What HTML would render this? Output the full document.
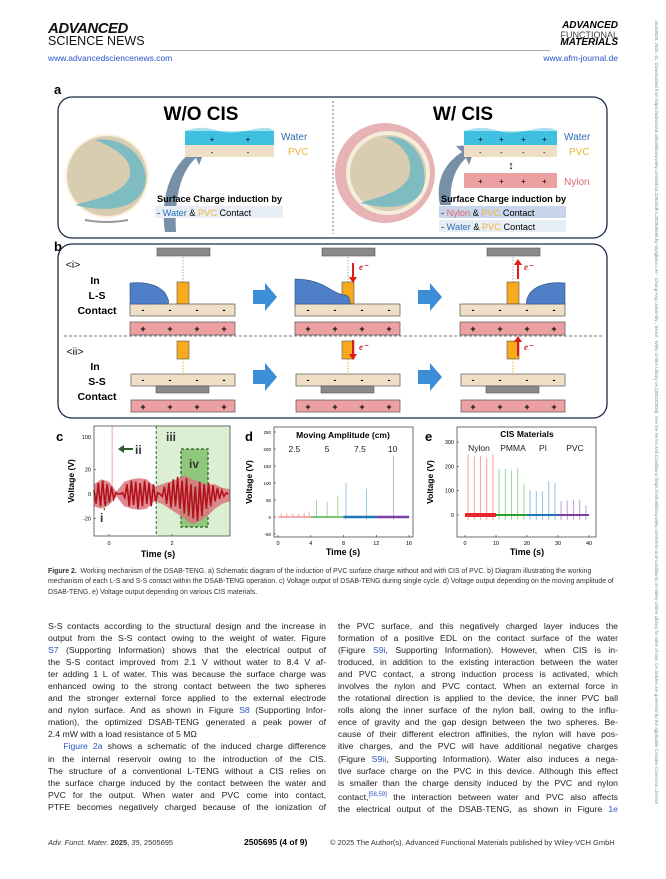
<!DOCTYPE html>
<html><head><meta charset="utf-8">
<style>
body{margin:0;width:666px;height:879px;background:#fff;position:relative;overflow:hidden;font-family:"Liberation Sans",sans-serif;}
.abs{position:absolute;}
.col{position:absolute;top:620px;font-size:8.7px;line-height:12.05px;color:#222;text-align:justify;}
.col div{text-align-last:justify;white-space:nowrap;}
.col div.l{text-align-last:left;}
a,.lk{color:#2a55c9;text-decoration:none;}
.cap{position:absolute;left:48px;top:567px;width:572px;font-size:6.9px;line-height:10.4px;color:#333;}
</style></head><body>

<div class="abs" style="left:48px;top:23px;line-height:12px;">
 <div style="font-weight:bold;font-style:italic;font-size:15px;letter-spacing:-0.5px;color:#111;">ADVANCED</div>
 <div style="font-size:12.5px;color:#111;">SCIENCE NEWS</div>
</div>
<div class="abs" style="left:160px;top:50px;width:390px;height:1px;background:#aaa;"></div>
<div class="abs lk" style="left:48px;top:53px;font-size:8.5px;">www.advancedsciencenews.com</div>
<div class="abs" style="left:548px;top:22px;line-height:8.5px;text-align:right;width:70px;">
 <div style="font-weight:bold;font-style:italic;font-size:10px;">ADVANCED</div>
 <div style="font-size:9px;color:#444;">FUNCTIONAL</div>
 <div style="font-weight:bold;font-style:italic;font-size:10px;">MATERIALS</div>
</div>
<div class="abs lk" style="left:520px;top:53px;width:98px;text-align:right;font-size:8.5px;">www.afm-journal.de</div>
<div class="abs" style="left:651px;top:20px;width:8px;height:840px;font-size:4.5px;color:#888;writing-mode:vertical-rl;white-space:nowrap;overflow:hidden;">16163028, 2025, 41, Downloaded from https://advanced.onlinelibrary.wiley.com/doi/10.1002/adfm.202505695 by Sungkyun Lee - Chung-Ang University , Seoul , Wiley Online Library on [30/10/2025]. See the Terms and Conditions (https://onlinelibrary.wiley.com/terms-and-conditions) on Wiley Online Library for rules of use; OA articles are governed by the applicable Creative Commons License</div>

<svg class="abs" style="left:0;top:0" width="666" height="879" font-family="Liberation Sans, sans-serif">
 <!-- Panel a -->
 <text x="54" y="94" font-size="13" font-weight="bold">a</text>
 <rect x="58" y="97" width="549" height="141" rx="14" fill="#fff" stroke="#1c2b45" stroke-width="1.3"/>
 <line x1="333" y1="101" x2="333" y2="234" stroke="#555" stroke-dasharray="2,2" stroke-width="0.8"/>
 <text x="201" y="120" font-size="19" font-weight="bold" text-anchor="middle">W/O CIS</text>
 <text x="463" y="120" font-size="19" font-weight="bold" text-anchor="middle">W/ CIS</text>
 <g>
  <circle cx="107" cy="176" r="42" fill="#fbf1dc"/>
  <circle cx="107" cy="176" r="40" fill="#d8cdb1"/>
  <path d="M95,140 C125,135 150,160 145,185 C140,205 115,215 75,205 C90,200 125,195 130,175 C132,158 115,148 95,140Z" fill="#6fb9c4" opacity="0.85"/>
  <path d="M85,220 Q107,224 128,220" stroke="#999" stroke-width="2" fill="none"/>
 </g>
 <g>
  <circle cx="385" cy="173" r="50" fill="#e7b3b5"/>
  <circle cx="388" cy="173" r="42" fill="#f6eedc"/>
  <circle cx="388" cy="173" r="38" fill="#d8cdb1"/>
  <path d="M385,137 C412,134 428,160 424,185 C420,205 395,212 360,203 C375,198 408,192 410,172 C412,155 400,143 385,137Z" fill="#6fb9c4" opacity="0.85"/>
 </g>
 <path d="M165,232 C160,195 172,165 192,152 L186,146 L207,145 L199,165 L196,158 C182,170 174,195 176,232Z" fill="#7790a8"/>
 <path d="M440,205 C435,180 445,163 462,152 L456,146 L476,145 L469,165 L466,158 C455,168 449,185 451,205Z" fill="#7790a8"/>
 <g>
  <rect x="185" y="131" width="89" height="14" fill="#3fc0e0"/>
  <path d="M185,131 Q200,125 215,130 T250,130 T274,131 Z" fill="#a9e2ef"/>
  <rect x="185" y="145" width="89" height="12" fill="#efdfc6"/>
  <text x="212" y="142" font-size="8" text-anchor="middle">+</text><text x="248" y="142" font-size="8" text-anchor="middle">+</text>
  <text x="212" y="155" font-size="8" text-anchor="middle">-</text><text x="248" y="155" font-size="8" text-anchor="middle">-</text>
  <text x="281" y="140" font-size="10" fill="#2d6fb5">Water</text>
  <text x="288" y="155" font-size="10" fill="#f4b43a">PVC</text>
 </g>
 <g>
  <rect x="464" y="131" width="93" height="14" fill="#3fc0e0"/>
  <path d="M464,131 Q480,125 495,130 T530,130 T557,131 Z" fill="#a9e2ef"/>
  <rect x="464" y="145" width="93" height="12" fill="#efdfc6"/>
  <rect x="464" y="173" width="93" height="15" fill="#eda0a2"/>
  <text x="478" y="142" font-size="8">+</text><text x="499" y="142" font-size="8">+</text><text x="521" y="142" font-size="8">+</text><text x="542" y="142" font-size="8">+</text>
  <text x="479" y="155" font-size="8">-</text><text x="500" y="155" font-size="8">-</text><text x="522" y="155" font-size="8">-</text><text x="543" y="155" font-size="8">-</text>
  <text x="478" y="184" font-size="8">+</text><text x="499" y="184" font-size="8">+</text><text x="521" y="184" font-size="8">+</text><text x="542" y="184" font-size="8">+</text>
  <text x="511" y="169" font-size="11" text-anchor="middle">↕</text>
  <text x="564" y="140" font-size="10" fill="#2d6fb5">Water</text>
  <text x="569" y="155" font-size="10" fill="#f4b43a">PVC</text>
  <text x="564" y="185" font-size="10" fill="#e0686d">Nylon</text>
 </g>
 <text x="157" y="202" font-size="9.2" font-weight="bold">Surface Charge induction by</text>
 <rect x="155" y="206" width="128" height="12" fill="#e8eef6"/>
 <text x="157" y="216" font-size="9.2">- <tspan fill="#2d6fb5">Water</tspan> &amp; <tspan fill="#f4b43a">PVC</tspan> Contact</text>
 <text x="441" y="202" font-size="9.2" font-weight="bold">Surface Charge induction by</text>
 <rect x="439" y="206" width="127" height="12" fill="#c9d5ea"/>
 <rect x="439" y="220" width="127" height="12" fill="#e8eef6"/>
 <text x="441" y="216" font-size="9.2">- <tspan fill="#e0686d">Nylon</tspan> &amp; <tspan fill="#f4b43a">PVC</tspan> Contact</text>
 <text x="441" y="230" font-size="9.2">- <tspan fill="#2d6fb5">Water</tspan> &amp; <tspan fill="#f4b43a">PVC</tspan> Contact</text>

 <!-- Panel b -->
 <text x="54" y="251" font-size="13" font-weight="bold">b</text>
 <rect x="58" y="244" width="549" height="174" rx="14" fill="#fff" stroke="#1c2b45" stroke-width="1.3"/>
 <line x1="64" y1="336" x2="602" y2="336" stroke="#777" stroke-dasharray="3,2" stroke-width="0.9"/>
 <g font-weight="bold" font-size="10.5" text-anchor="middle">
  <text x="73" y="268" font-weight="normal">&lt;i&gt;</text>
  <text x="95" y="284">In</text><text x="97" y="299">L-S</text><text x="97" y="314">Contact</text>
  <text x="75" y="355" font-weight="normal">&lt;ii&gt;</text>
  <text x="95" y="370">In</text><text x="97" y="385">S-S</text><text x="97" y="400">Contact</text>
 </g>
 <g id="stages"></g>
 <g fill="#3c8fd6">
  <path d="M253,290 h12 v-7 l12,14 l-12,14 v-7 h-12z"/><path d="M418,290 h12 v-7 l12,14 l-12,14 v-7 h-12z"/>
  <path d="M253,370 h12 v-7 l12,14 l-12,14 v-7 h-12z"/><path d="M418,370 h12 v-7 l12,14 l-12,14 v-7 h-12z"/>
 </g>

 <!-- Panel c -->
 <g id="chartC" font-size="5.5"></g>
 <g id="chartD" font-size="5.5"></g>
 <g id="chartE" font-size="5.5"></g>
</svg>

<div class="cap"><b>Figure 2.</b>&nbsp; Working mechanism of the DSAB-TENG. a) Schematic diagram of the induction of PVC surface charge without and with CIS of PVC. b) Diagram illustrating the working mechanism of each L-S and S-S contact within the DSAB-TENG operation. c) Voltage output of DSAB-TENG during single cycle. d) Voltage output depending on the moving amplitude of DSAB-TENG. e) Voltage output depending on various CIS materials.</div>

<div class="col" style="left:48px;width:278px;">
<div>S-S contacts according to the structural design and the increase in</div>
<div>output from the S-S contact owing to the weight of water. Figure</div>
<div><span class="lk">S7</span> (Supporting Information) shows that the electrical output of</div>
<div>the S-S contact improved from 2.1 V without water to 8.4 V af-</div>
<div>ter adding 1 L of water. This was because the surface charge was</div>
<div>enhanced owing to the strong contact between the two spheres</div>
<div>and the stronger external force applied to the external electrode</div>
<div>and nylon surface. And as shown in Figure <span class="lk">S8</span> (Supporting Infor-</div>
<div>mation), the optimized DSAB-TENG generated a peak power of</div>
<div class="l">2.4 mW with a load resistance of 5 MΩ</div>
<div>&nbsp;&nbsp;&nbsp;<span class="lk">Figure 2a</span> shows a schematic of the induced charge difference</div>
<div>in the internal reservoir owing to the introduction of the CIS.</div>
<div>The structure of a conventional L-TENG without a CIS relies on</div>
<div>the surface charge induced by the contact between the water and</div>
<div>PVC for the output. When water and PVC come into contact,</div>
<div>PTFE becomes negatively charged because of the ionization of</div>
</div>
<div class="col" style="left:338px;width:280px;">
<div>the PVC surface, and this negatively charged layer induces the</div>
<div>formation of a positive EDL on the contact surface of the water</div>
<div>(Figure <span class="lk">S9i</span>, Supporting Information). However, when CIS is in-</div>
<div>troduced, in addition to the existing interaction between the water</div>
<div>and PVC contact, a strong induction process is activated, which</div>
<div>involves the nylon and PVC contact. When an external force in</div>
<div>the rotational direction is applied to the device, the inner PVC ball</div>
<div>rolls along the inner surface of the nylon ball, owing to the influ-</div>
<div>ence of gravity and the gap design between the two spheres. Be-</div>
<div>cause of their different electron affinities, the nylon will have pos-</div>
<div>itive charges, and the PVC will have additional negative charges</div>
<div>(Figure <span class="lk">S9ii</span>, Supporting Information). Water also induces a nega-</div>
<div>tive surface charge on the PVC in this device. Although this effect</div>
<div>is smaller than the charge density induced by the PVC and nylon</div>
<div>contact,<sup class="lk" style="font-size:6px">[58,59]</sup> the interaction between water and PVC also affects</div>
<div>the electrical output of the DSAB-TENG, as shown in Figure <span class="lk">1e</span></div>
</div>

<div class="abs" style="left:48px;top:838px;font-size:7.5px;color:#333;"><i>Adv. Funct. Mater.</i> <b>2025</b>, <i>35</i>, 2505695</div>
<div class="abs" style="left:244px;top:837px;font-size:8.5px;font-weight:bold;">2505695 (4 of 9)</div>
<div class="abs" style="left:330px;top:838px;font-size:7.5px;color:#333;">© 2025 The Author(s). Advanced Functional Materials published by Wiley-VCH GmbH</div>

<script>
// ---------- Panel c data ----------
const cTimes0 = -0.48, cStep = 0.07;
const cSignal = [3,-8,9,-10,11,-9,8,-7,6,-4,1,0,0,1,-3,8,-10,11,-9,10,-12,9,-10,11,-8,9,-10,8,-6,1,0,-2,6,-8,9,-11,12,-10,14,-12,11,-16,13,-18,8,-20,6,-22,10,-18,8,-12,9,-10,7,-6,5,-4,3,-2,1,0];
const cBandTimes = [-0.48,-0.24,0,0.24,0.48,0.72,0.96,1.2,1.44,1.68,1.92,2.16,2.4,2.64,2.88,3.12,3.36,3.6,3.84];
const cBandUpper = [8,12,10,2,10,12,13,12,6,8,10,12,15,12,10,8,8,5,4];
const cBandLower = [-10,-12,-9,-2,-10,-12,-13,-12,-6,-8,-12,-16,-20,-25,-22,-18,-12,-8,-6];
const cSpikeTime = [0.1];
const cYTicks = [-20,0,20];
const cXTicks = [0,2];
// ---------- Panel d data ----------
const dGroups = ['2.5','5','7.5','10'];
const dGroupRanges = [[0,4],[4,8],[8,12],[12,16]];
const dSpikeTimes = [[0.4,1.1,1.8,2.5,3.2,3.8],[4.7,6.0,7.3],[8.3,10.8],[14.1]];
const dSpikeValues = [[12,10,10,8,12,15],[50,44,63],[100,83],[180]];
const dYTicks = [-50,0,50,100,150,200,250];
const dXTicks = [0,4,8,12,16];
// ---------- Panel e data ----------
const eMaterials = ['Nylon','PMMA','PI','PVC'];
const eGroupRanges = [[0,10],[10,20],[20,30],[30,40]];
const eSpikeTimes = [[1,3,5,7,9],[11,13,15,17,19],[21,23,25,27,29],[31,33,35,37,39]];
const eSpikeValues = [[250,240,243,235,250],[190,190,183,195,130],[103,98,97,140,132],[57,60,62,63,40]];
const eYTicks = [0,100,200,300];
const eXTicks = [0,10,20,30,40];

const NS='http://www.w3.org/2000/svg';
function mk(parent,tag,attrs,text){const e=document.createElementNS(NS,tag);for(const k in attrs)e.setAttribute(k,attrs[k]);if(text!==undefined)e.textContent=text;parent.appendChild(e);return e;}

// ---------- Panel b stages ----------
(function(){
 const g=document.getElementById('stages');
 const centers=[183,348,513];
 centers.forEach((c,i)=>{
  // L-S row
  let t=mk(g,'rect',{x:c-26,y:248,width:53,height:8,fill:'#8a8a8a',stroke:'#555','stroke-width':0.6});
  
  
  mk(g,'line',{x1:c,y1:257,x2:c,y2:282,stroke:'#aaa','stroke-dasharray':'1.5,1.5'});
  let y=mk(g,'rect',{x:c-6,y:282,width:12,height:22,fill:'#f6aa1c',stroke:'#555','stroke-width':0.6});
  
  
  mk(g,'rect',{x:c-53,y:304,width:105,height:12,fill:'#efdfc6',stroke:'#555','stroke-width':0.7});
  mk(g,'rect',{x:c-53,y:322,width:105,height:13,fill:'#eda0a2',stroke:'#555','stroke-width':0.7});
  for(let k=0;k<4;k++){mk(g,'text',{x:c-40+k*27,y:313,'font-size':9,'font-weight':'bold','text-anchor':'middle'},'-');mk(g,'text',{x:c-40+k*27,y:332,'font-size':9,'font-weight':'bold','text-anchor':'middle'},'+');}
  if(i===0) mk(g,'path',{d:`M${c-53},304 v-21 q25,-2 35,10 q5,8 3,11 z`,fill:'#4f7fc6',stroke:'#2a4c80','stroke-width':0.6});
  if(i===1) mk(g,'path',{d:`M${c-53},304 v-25 q20,0 35,10 q10,6 16,6 q5,3 4,9 z`,fill:'#4f7fc6',stroke:'#2a4c80','stroke-width':0.6});
  if(i===2) mk(g,'path',{d:`M${c+52},304 v-21 q-25,-2 -35,10 q-5,8 -3,11 z`,fill:'#4f7fc6',stroke:'#2a4c80','stroke-width':0.6});
  // S-S row
  const sy = i===1?[341,374]:[341,374];
  mk(g,'rect',{x:c-6,y:341,width:12,height:18,fill:'#f6aa1c',stroke:'#555','stroke-width':0.6});
  mk(g,'line',{x1:c,y1:359,x2:c,y2:374,stroke:'#f6aa1c','stroke-dasharray':'1.5,1.5'});
  mk(g,'rect',{x:c-52,y:374,width:104,height:12,fill:'#efdfc6',stroke:'#555','stroke-width':0.7});
  mk(g,'rect',{x:c-27,y:386,width:53,height:7,fill:'#8a8a8a',stroke:'#555','stroke-width':0.6});
  mk(g,'rect',{x:c-52,y:400,width:104,height:12,fill:'#eda0a2',stroke:'#555','stroke-width':0.7});
  for(let k=0;k<4;k++){mk(g,'text',{x:c-40+k*27,y:383,'font-size':9,'font-weight':'bold','text-anchor':'middle'},'-');mk(g,'text',{x:c-40+k*27,y:410,'font-size':9,'font-weight':'bold','text-anchor':'middle'},'+');}
  if(i>0){
   const up=i===2;
   mk(g,'line',{x1:c+5,y1:up?279:263,x2:c+5,y2:up?263:279,stroke:'#e01b1b','stroke-width':2});
   mk(g,'path',{d:up?`M${c+1},265 l4,-6 l4,6z`:`M${c+1},277 l4,6 l4,-6z`,fill:'#e01b1b'});
   mk(g,'text',{x:c+11,y:270,'font-size':9,'font-style':'italic','font-weight':'bold',fill:'#c0282a','font-family':'Liberation Serif, serif'},'e⁻');
   mk(g,'line',{x1:c+5,y1:up?356:340,x2:c+5,y2:up?340:356,stroke:'#e01b1b','stroke-width':2});
   mk(g,'path',{d:up?`M${c+1},342 l4,-6 l4,6z`:`M${c+1},354 l4,6 l4,-6z`,fill:'#e01b1b'});
   mk(g,'text',{x:c+11,y:350,'font-size':9,'font-style':'italic','font-weight':'bold',fill:'#c0282a','font-family':'Liberation Serif, serif'},'e⁻');
  }
 });
})();

// ---------- generic axes ----------
function frame(g,x0,y0,x1,y1){mk(g,'rect',{x:x0,y:y0,width:x1-x0,height:y1-y0,fill:'none',stroke:'#333','stroke-width':0.7});}

// ---------- Chart c ----------
(function(){
 const g=document.getElementById('chartC');
 const X=t=>109+(t-0)*31.5, Y=v=>494-v*1.225;
 mk(g,'text',{x:56,y:441,'font-size':13,'font-weight':'bold'},'c');
 mk(g,'rect',{x:X(1.5),y:426,width:230-X(1.5),height:110,fill:'#dcefd2'});
 const box=mk(g,'rect',{x:181,y:449,width:27,height:78,fill:'#8fc77d',stroke:'#2d5a2a','stroke-dasharray':'3,2','stroke-width':1.2});
 
 
 mk(g,'line',{x1:X(1.5),y1:426,x2:X(1.5),y2:536,stroke:'#2d6a2a','stroke-dasharray':'3,2','stroke-width':1});
 // spike
 cSpikeTime.forEach(t=>{const s=mk(g,'line',{x1:X(t),y1:426,x2:X(t),y2:Y(0),stroke:'#f2a6ad','stroke-width':1});
  
  });
 // band
 let d='';cBandTimes.forEach((t,i)=>{d+=(i?'L':'M')+X(t)+','+Y(cBandUpper[i]);});
 for(let i=cBandTimes.length-1;i>=0;i--)d+='L'+X(cBandTimes[i])+','+Y(cBandLower[i]);
 const band=mk(g,'path',{d:d+'Z',fill:'#d9777e',opacity:0.85});
 
 
 let p='';cSignal.forEach((v,i)=>{p+=(i?'L':'M')+X(cTimes0+i*cStep)+','+Y(v);});
 const line=mk(g,'path',{d:p,fill:'none',stroke:'#b3101c','stroke-width':1.6});
 
 
 frame(g,94,426,230,536);
 cYTicks.forEach(v=>{mk(g,'line',{x1:94,y1:Y(v),x2:96,y2:Y(v),stroke:'#333','stroke-width':0.6});mk(g,'text',{x:91,y:Y(v)+2,'text-anchor':'end'},v);});
 mk(g,'text',{x:91,y:439,'text-anchor':'end'},'100');
 cXTicks.forEach(v=>{mk(g,'line',{x1:X(v),y1:536,x2:X(v),y2:534,stroke:'#333','stroke-width':0.6});mk(g,'text',{x:X(v),y:545,'text-anchor':'middle'},v);});
 mk(g,'text',{x:158,y:557,'font-size':9,'font-weight':'bold','text-anchor':'middle'},'Time (s)');
 mk(g,'text',{x:74,y:481,'font-size':8.5,'font-weight':'bold','text-anchor':'middle',transform:'rotate(-90 74 481)'},'Voltage (V)');
 mk(g,'text',{x:135,y:454,'font-size':12,'font-weight':'bold',fill:'#333'},'ii');
 mk(g,'path',{d:'M118,449 l6,-4 v3 h9 v2 h-9 v3z',fill:'#2d5a2a'});
 mk(g,'text',{x:166,y:441,'font-size':12,'font-weight':'bold',fill:'#333'},'iii');
 mk(g,'text',{x:194,y:468,'font-size':12,'font-weight':'bold',fill:'#333','text-anchor':'middle'},'iv');
 mk(g,'text',{x:100,y:522,'font-size':12,'font-weight':'bold',fill:'#333'},'i');
 mk(g,'line',{x1:104,y1:510,x2:109,y2:497,stroke:'#2d5a2a','stroke-dasharray':'2,1.5','stroke-width':1.2});
})();

// ---------- Chart d ----------
(function(){
 const g=document.getElementById('chartD');
 const X=t=>278+t*8.19, Y=v=>517-v*0.34;
 const cols=['#f08080','#2ca02c','#1f77b4','#7b3fa8'], light=['#f5a9a9','#a5d6a0','#9cc5e6','#c5a9dd'];
 mk(g,'text',{x:245,y:441,'font-size':13,'font-weight':'bold'},'d');
 frame(g,274,427,413,537);
 dGroups.forEach((gname,i)=>{
  dSpikeTimes[i].forEach((t,j)=>{const s=mk(g,'line',{x1:X(t),y1:Y(i>1?-8:0),x2:X(t),y2:Y(dSpikeValues[i][j]),stroke:light[i],'stroke-width':1});
   
   });
  const b=mk(g,'line',{x1:X(dGroupRanges[i][0]),y1:Y(0),x2:X(dGroupRanges[i][1]),y2:Y(0),stroke:cols[i],'stroke-width':i>1?2.6:1.2});
  
  
  mk(g,'text',{x:X((dGroupRanges[i][0]+dGroupRanges[i][1])/2),y:452,'font-size':8.5,'text-anchor':'middle',fill:'#222'},gname);
 });
 mk(g,'text',{x:343,y:438,'font-size':8.5,'font-weight':'bold','text-anchor':'middle'},'Moving Amplitude (cm)');
 dYTicks.forEach(v=>{mk(g,'line',{x1:274,y1:Y(v),x2:276,y2:Y(v),stroke:'#333','stroke-width':0.6});mk(g,'text',{x:271,y:Y(v)+2,'text-anchor':'end','font-size':4.5},v);});
 dXTicks.forEach(v=>{mk(g,'line',{x1:X(v),y1:537,x2:X(v),y2:535,stroke:'#333','stroke-width':0.6});mk(g,'text',{x:X(v),y:545,'text-anchor':'middle'},v);});
 mk(g,'text',{x:343,y:555,'font-size':9,'font-weight':'bold','text-anchor':'middle'},'Time (s)');
 mk(g,'text',{x:252,y:482,'font-size':8.5,'font-weight':'bold','text-anchor':'middle',transform:'rotate(-90 252 482)'},'Voltage (V)');
})();

// ---------- Chart e ----------
(function(){
 const g=document.getElementById('chartE');
 const X=t=>465+t*3.1, Y=v=>515-v*0.243;
 const cols=['#e8262b','#2ca02c','#1f77b4','#7b3fa8'], light=['#f5a9a9','#a5d6a0','#9cc5e6','#c5a9dd'];
 mk(g,'text',{x:425,y:441,'font-size':13,'font-weight':'bold'},'e');
 frame(g,457,427,596,537);
 mk(g,'text',{x:527,y:437,'font-size':8.5,'font-weight':'bold','text-anchor':'middle'},'CIS Materials');
 eMaterials.forEach((m,i)=>{
  eSpikeTimes[i].forEach((t,j)=>{const s=mk(g,'line',{x1:X(t),y1:Y(-20),x2:X(t),y2:Y(eSpikeValues[i][j]),stroke:light[i],'stroke-width':1.1});
   
   });
  const b=mk(g,'line',{x1:X(eGroupRanges[i][0]),y1:Y(0),x2:X(eGroupRanges[i][1]),y2:Y(0),stroke:cols[i],'stroke-width':i===0?4:2});
  
  
 });
 const lx=[479,513,543,575];
 eMaterials.forEach((m,i)=>mk(g,'text',{x:lx[i],y:451,'font-size':8.5,'text-anchor':'middle',fill:'#222'},m));
 eYTicks.forEach(v=>{mk(g,'line',{x1:457,y1:Y(v),x2:459,y2:Y(v),stroke:'#333','stroke-width':0.6});mk(g,'text',{x:454,y:Y(v)+2,'text-anchor':'end'},v);});
 eXTicks.forEach(v=>{mk(g,'line',{x1:X(v),y1:537,x2:X(v),y2:535,stroke:'#333','stroke-width':0.6});mk(g,'text',{x:X(v),y:545,'text-anchor':'middle'},v);});
 mk(g,'text',{x:527,y:555,'font-size':9,'font-weight':'bold','text-anchor':'middle'},'Time (s)');
 mk(g,'text',{x:433,y:482,'font-size':8.5,'font-weight':'bold','text-anchor':'middle',transform:'rotate(-90 433 482)'},'Voltage (V)');
})();
</script>
</body></html>
